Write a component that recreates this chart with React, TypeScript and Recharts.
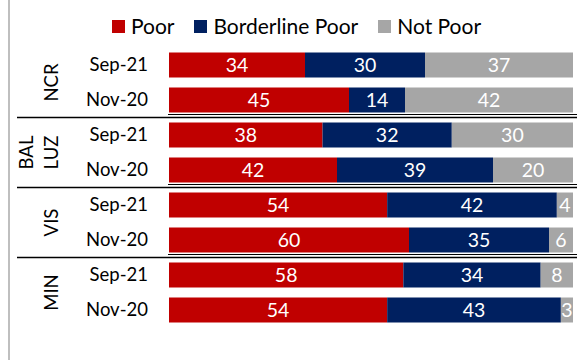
import React from "react"
import { BarChart, Bar, XAxis, YAxis, Legend, LabelList } from "recharts"

const regions = ["NCR", "BAL LUZ", "VIS", "MIN"]
const periods = ["Sep-21", "Nov-20"]
const poor = [34, 45, 38, 42, 54, 60, 58, 54]
const borderlinePoor = [30, 14, 32, 39, 42, 35, 34, 43]
const notPoor = [37, 42, 30, 20, 4, 6, 8, 3]

const W = 577
const H = 360
const MARGIN = { top: 47.5, right: 4, bottom: 32.5, left: 19 }
const FONT = "Lato, 'Open Sans', sans-serif"

const SERIES = [
  { key: "poor", name: "Poor", color: "#C00000" },
  { key: "borderline", name: "Borderline Poor", color: "#002060" },
  { key: "notPoor", name: "Not Poor", color: "#A6A6A6" },
]

const data = regions.flatMap((region, r) =>
  periods.map((period, p) => {
    const i = r * periods.length + p
    return {
      key: `${region}|${period}`,
      region,
      period,
      poor: poor[i],
      borderline: borderlinePoor[i],
      notPoor: notPoor[i],
    }
  }),
)

const band = (H - MARGIN.top - MARGIN.bottom) / data.length

function RowTick(props: any) {
  const { x, y, payload, index } = props
  const [region, period] = String(payload.value).split("|")
  const lines = region.split(" ")
  const isFirst = index % periods.length === 0
  const isLast = index % periods.length === periods.length - 1
  const groupY = y + band / 2
  return (
    <g>
      <text x={x} y={y} dy="0.35em" textAnchor="end" fontSize={18.5} fill="#000" fontFamily={FONT}>
        {period}
      </text>
      {isFirst && (
        <g transform={`translate(52, ${groupY}) rotate(-90)`}>
          {lines.map((l, k) => (
            <text
              key={l}
              x={0}
              y={(k - (lines.length - 1)) * 25}
              dy="0.35em"
              textAnchor="middle"
              fontSize={18.5}
              fill="#000"
              fontFamily={FONT}
            >
              {l}
            </text>
          ))}
        </g>
      )}
      {isLast && index < data.length - 1 && (
        <g>
          <line x1={17} x2={W} y1={y + band / 2} y2={y + band / 2} stroke="#000" strokeWidth={1.6} />
          <line x1={168} x2={W} y1={y + band / 2 - 3} y2={y + band / 2 - 3} stroke="#000" strokeWidth={1} />
        </g>
      )}
    </g>
  )
}

function TopLegend() {
  return (
    <div style={{ display: "flex", justifyContent: "center", gap: 20, fontFamily: FONT, fontSize: 21, paddingLeft: 16 }}>
      {SERIES.map((s) => (
        <div key={s.key} style={{ display: "flex", alignItems: "center", gap: 6 }}>
          <span style={{ display: "inline-block", width: 13, height: 13, background: s.color }} />
          <span style={{ color: "#000", lineHeight: "26px" }}>{s.name}</span>
        </div>
      ))}
    </div>
  )
}

export default function App() {
  return (
    <div style={{ position: "absolute", left: 0, top: 0, width: W, height: H, background: "#fff" }}>
      <div style={{ position: "absolute", left: 8, top: 0, width: 2, height: H, background: "#BFBFBF" }} />
      <BarChart
        width={W}
        height={H}
        data={data}
        layout="vertical"
        stackOffset="expand"
        margin={MARGIN}
        barSize={25}
      >
        <XAxis type="number" hide domain={[0, 1]} />
        <YAxis
          type="category"
          dataKey="key"
          width={150}
          axisLine={false}
          tickLine={false}
          tickSize={0}
          tickMargin={21}
          interval={0}
          tick={<RowTick />}
        />
        <Legend
          layout="horizontal"
          verticalAlign="middle"
          align="center"
          wrapperStyle={{ top: 13, left: 0, width: W }}
          content={<TopLegend />}
        />
        {SERIES.map((s) => (
          <Bar key={s.key} dataKey={s.key} name={s.name} stackId="a" fill={s.color} isAnimationActive={false}>
            <LabelList dataKey={s.key} position="center" fill="#fff" fontSize={19.5} fontFamily={FONT} />
          </Bar>
        ))}
      </BarChart>
    </div>
  )
}
